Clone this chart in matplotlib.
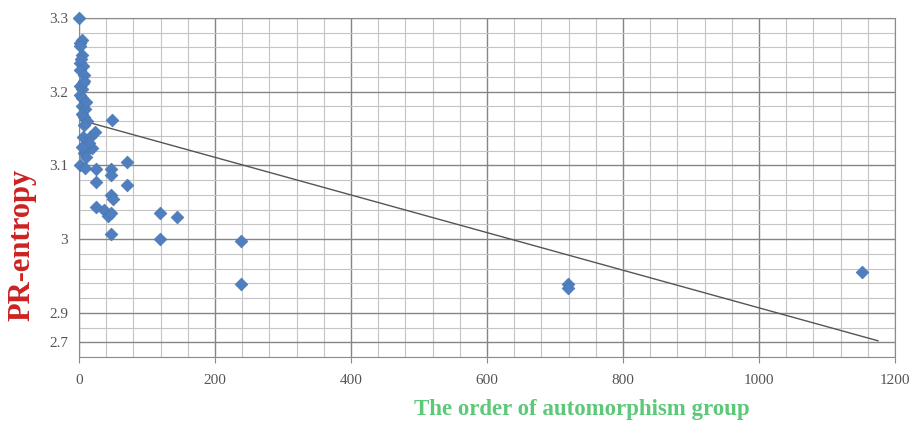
import numpy as np
import matplotlib.pyplot as plt
from matplotlib.ticker import MultipleLocator

# order of automorphism group vs PR-entropy
order = [0, 2, 4, 2, 2, 6, 2, 2, 4, 2, 4, 4, 9, 4, 7, 48,
         6, 16, 24, 19, 7, 10, 2, 9, 25, 47, 47, 71, 25, 71,
         47, 50, 25, 37, 43, 47, 47, 119, 144, 119, 238, 238,
         719, 719, 1151,
         5, 8, 6, 10, 12, 8, 14, 5, 3, 7]
entropy = [3.300, 3.266, 3.270, 3.262, 3.239, 3.235, 3.230, 3.208, 3.203, 3.196, 3.192,
           3.181, 3.176, 3.170, 3.165, 3.161,
           3.138, 3.138, 3.145, 3.124, 3.117, 3.111, 3.100, 3.097, 3.095, 3.095, 3.087, 3.104,
           3.077, 3.074, 3.060, 3.054, 3.043, 3.040, 3.032, 3.036, 3.007, 3.036, 3.030,
           3.000, 2.997, 2.939, 2.939, 2.934, 2.955,
           3.250, 3.222, 3.212, 3.186, 3.160, 3.155, 3.130, 3.125, 3.245, 3.215]

# linear trend line as drawn
trend_x = [0, 1175]
trend_y = [3.162, 2.862]

x_ticks = [0, 200, 400, 600, 800, 1000, 1200]
y_ticks = [2.86, 2.9, 3.0, 3.1, 3.2, 3.3]
y_labels = ['2.7', '2.9', '3', '3.1', '3.2', '3.3']

fig = plt.figure(figsize=(9.15, 4.22), dpi=100)
ax = fig.add_axes([79/915, 1-357/422, (895-79)/915, (357-18)/422])

ax.xaxis.set_minor_locator(MultipleLocator(40))
ax.yaxis.set_minor_locator(MultipleLocator(0.02))
ax.grid(which='minor', color='#c4c4c4', linewidth=0.8)
ax.grid(which='major', color='#858585', linewidth=1.0)
ax.set_axisbelow(True)

ax.plot(trend_x, trend_y, color='#555555', linewidth=1.0, zorder=2)
ax.scatter(order, entropy, marker='D', s=42, color='#4f7fbf', edgecolors='#4a78b5',
           linewidths=0.5, zorder=3, clip_on=False)

ax.set_xlim(0, 1200)
ax.set_ylim(2.84, 3.3)
ax.set_xticks(x_ticks)
ax.set_xticklabels([str(t) for t in x_ticks])
ax.set_yticks(y_ticks)
ax.set_yticklabels(y_labels)

for lab in ax.get_xticklabels() + ax.get_yticklabels():
    lab.set_family('Liberation Serif')
    lab.set_fontsize(11)
    lab.set_color('#555555')
ax.tick_params(axis='x', which='major', length=4, color='#8c8c8c', pad=8)
ax.tick_params(axis='y', which='major', length=0, pad=8)
ax.tick_params(which='minor', length=0)
for s in ax.spines.values():
    s.set_color('#8c8c8c')

fig.text(22/915, 1-245/422, 'PR-entropy', rotation=90, ha='center', va='center',
         family='Liberation Serif', fontweight='bold', fontsize=22, color='#cc2222')
fig.text(582/915, 1-409/422, 'The order of automorphism group', ha='center', va='center',
         family='Liberation Serif', fontweight='bold', fontsize=16.5, color='#5cc878')

fig.savefig('out.png', dpi=100)
